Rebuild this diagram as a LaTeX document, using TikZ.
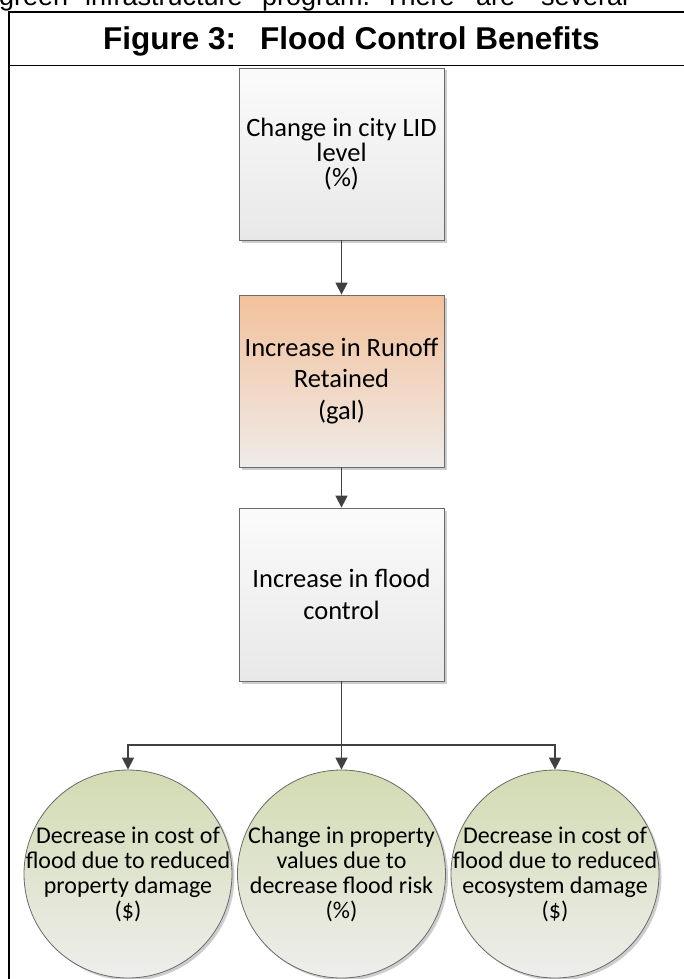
\documentclass[tikz,border=0pt]{standalone}
\usepackage{fontspec}
\setmainfont{Carlito}
\newfontfamily\arialfont{Liberation Sans}
\usetikzlibrary{arrows.meta,shadows}

\definecolor{boxtop}{HTML}{FBFBFB}
\definecolor{boxbot}{HTML}{E8E8E8}
\definecolor{runtop}{HTML}{F3C19B}
\definecolor{runbot}{HTML}{EFEBE8}
\definecolor{leaftop}{HTML}{D2DBB2}
\definecolor{leafbot}{HTML}{EEEEEC}
\definecolor{edgegray}{HTML}{6A6A6A}
\definecolor{linkgray}{HTML}{404040}
\definecolor{shadowgray}{HTML}{CDCDCD}

\begin{document}
\begin{tikzpicture}[x=1pt,y=-1pt,
  softshadow/.style={drop shadow={shadow xshift=2.5pt,shadow yshift=-2.5pt,fill=shadowgray,opacity=1}},
  stepbox/.style={rectangle,draw=edgegray,line width=0.8pt,minimum width=205pt,
    inner sep=0pt,align=center,softshadow},
  grayfill/.style={top color=boxtop,bottom color=boxbot},
  orangefill/.style={top color=runtop,bottom color=runbot},
  leaf/.style={circle,draw=edgegray,line width=0.8pt,minimum size=208pt,inner sep=0pt,
    top color=leaftop,bottom color=leafbot,softshadow},
  leaftext/.style={align=center,inner sep=0pt,font=\fontsize{24}{25}\selectfont},
  link/.style={draw=linkgray,line width=1.5pt,-{Triangle[length=12pt,width=12pt]}},
  bodyword/.style={anchor=base west,inner sep=0pt,font=\arialfont\fontsize{27}{30}\selectfont},
  frameline/.style={line width=1.8pt,black}
]
\useasboundingbox (0,0) rectangle (684,979);
\clip (0,0) rectangle (684,979);

% running text of the page above the figure
\node[bodyword] (w1) at (-1,5.5) {green};
\node[bodyword] (w2) at (85,5.5) {infrastructure};
\node[bodyword] (w3) at (262,5.5) {program.};
\node[bodyword] (w4) at (384,5.5) {There};
\node[bodyword] (w5) at (476,5.5) {are};
\node[bodyword] (w6) at (541,5.5) {several};

% figure frame and title band
\draw[frameline] (9.2,990) -- (9.2,12.2) -- (700,12.2);
\draw[frameline] (9.2,65.5) -- (700,65.5);
\node[anchor=base west,inner sep=0pt,font=\arialfont\bfseries\fontsize{31.5}{34}\selectfont]
  (title) at (103,50) {Figure 3:\hspace{24pt}Flood Control Benefits};

% chain of boxes
\node[stepbox,grayfill,minimum height=172pt,font=\fontsize{26.5}{25}\selectfont]
  (lid) at (341.5,154) {Change in city LID\\level\\(\%)};
\node[stepbox,orangefill,minimum height=172pt,font=\fontsize{26.5}{31.7}\selectfont]
  (runoff) at (341.5,381) {Increase in Runoff\\Retained\\(gal)};
\node[stepbox,grayfill,minimum height=173pt,font=\fontsize{26.5}{31.7}\selectfont]
  (flood) at (341.5,594.5) {Increase in flood\\control};

% benefit circles
\node[leaf] (damage) at (128,874) {};
\node[leaftext] (damagetext) at (damage) {Decrease in cost of\\flood due to reduced\\property damage\\(\$)};
\node[leaf] (value) at (341.5,874) {};
\node[leaftext] (valuetext) at (value) {Change in property\\values due to\\decrease flood risk\\(\%)};
\node[leaf] (eco) at (555,874) {};
\node[leaftext] (ecotext) at (eco) {Decrease in cost of\\flood due to reduced\\ecosystem damage\\(\$)};

% connectors
\draw[link] (lid.south) -- (runoff.north);
\draw[link] (runoff.south) -- (flood.north);
\coordinate (fork) at (341.5,745);
\draw[link] (flood.south) -- (fork) -| (damage.north);
\draw[link] (fork) -| (eco.north);
\draw[link] (fork) -- (value.north);
\end{tikzpicture}
\end{document}
